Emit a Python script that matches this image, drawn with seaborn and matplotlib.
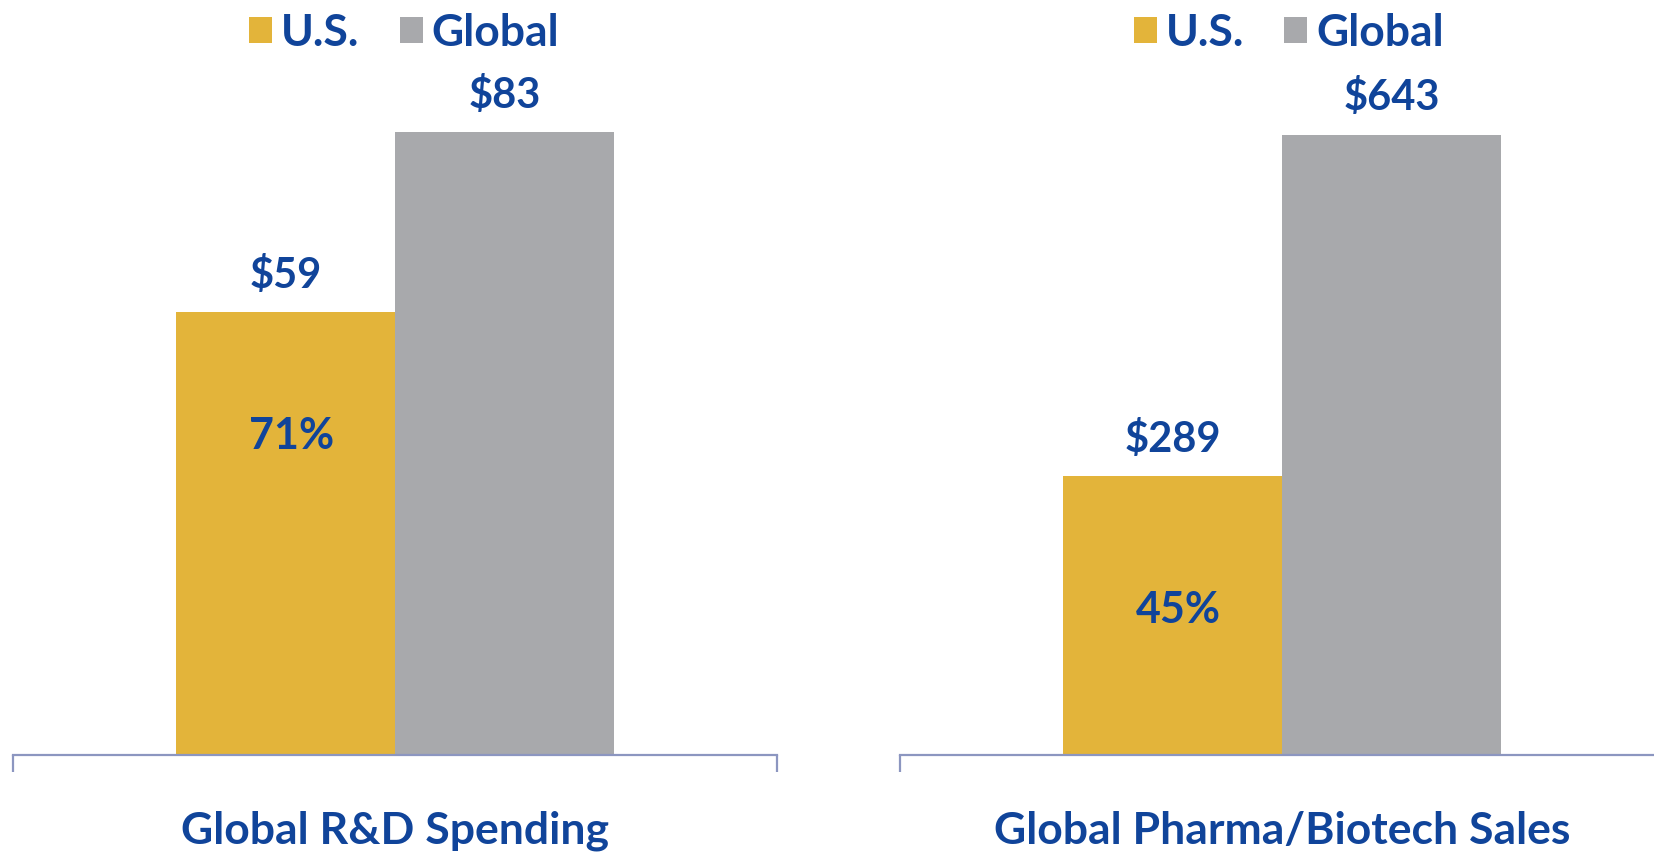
import matplotlib
matplotlib.use("Agg")
import matplotlib.pyplot as plt
import seaborn as sns
import pandas as pd
from matplotlib.patches import Patch

# -------------------- Data --------------------
panels = ["Global R&D Spending", "Global Pharma/Biotech Sales"]
series = ["U.S.", "Global"]
us_values = [59, 289]
global_values = [83, 643]
share_labels = ["71%", "45%"]
share_heights = [0.72, 0.52]   # fraction of the U.S. bar where the share sits
value_labels_us = ["$59", "$289"]
value_labels_global = ["$83", "$643"]
y_tops = [100.5, 782]

# -------------------- Style --------------------
sns.set_style("white")
plt.rcParams["font.family"] = ["Lato", "DejaVu Sans"]
plt.rcParams["font.weight"] = "bold"

gold = "#E3B43A"
gray = "#A8A9AC"
navy = "#10449A"
axis_col = "#8C96C0"
palette = {"U.S.": gold, "Global": gray}

fig = plt.figure(figsize=(16.54, 8.57), dpi=100)
rects = [[13 / 1654, 0.119, 764 / 1654, 0.88],
         [900 / 1654, 0.119, 764 / 1654, 0.88]]
legend_x = [0.512, 0.509]

for i, name in enumerate(panels):
    ax = fig.add_axes(rects[i])
    df = pd.DataFrame({
        "panel": [name, name],
        "series": series,
        "value": [us_values[i], global_values[i]],
    })
    sns.barplot(data=df, x="panel", y="value", hue="series", hue_order=series,
                palette=palette, width=0.573, saturation=1, legend=False,
                linewidth=0, ax=ax)
    ax.set_xlim(-0.5, 0.5)
    ax.set_ylim(0, y_tops[i])

    # value labels above bars, share inside U.S. bar
    us_bar, gl_bar = ax.patches[0], ax.patches[1]
    for bar, lab in [(us_bar, value_labels_us[i]), (gl_bar, value_labels_global[i])]:
        ax.annotate(lab, (bar.get_x() + bar.get_width() / 2, bar.get_height()),
                    xytext=(0, 26.6), textcoords="offset points",
                    ha="center", va="center", fontsize=30, color=navy,
                    fontweight="bold")
    ax.annotate(share_labels[i],
                (us_bar.get_x() + us_bar.get_width() / 2,
                 us_bar.get_height() * share_heights[i]),
                xytext=(4, 0), textcoords="offset points",
                ha="center", va="center", fontsize=31, color=navy,
                fontweight="bold")

    # spines / ticks
    for s in ["top", "left", "right"]:
        ax.spines[s].set_visible(False)
    ax.spines["bottom"].set_color(axis_col)
    ax.spines["bottom"].set_linewidth(1.6)
    ax.set_yticks([])
    ax.set_ylabel("")
    ax.set_xlabel("")
    ax.set_xticks([0])
    ax.set_xticklabels([name], fontsize=32, color=navy, fontweight="bold")
    ax.tick_params(axis="x", which="major", bottom=True, length=0, pad=40)
    ax.set_xticks([-0.5, 0.5], minor=True)
    ax.tick_params(axis="x", which="minor", bottom=True, length=12, width=1.6,
                   color=axis_col, direction="out")

    # legend
    handles = [Patch(facecolor=palette[s], edgecolor="none") for s in series]
    ax.legend(handles, series, loc="center", bbox_to_anchor=(legend_x[i], 0.958),
              bbox_transform=ax.transAxes, ncol=2, frameon=False,
              labelcolor=navy, handlelength=0.52,
              handleheight=0.52, handletextpad=0.2, columnspacing=0.9,
              prop={"weight": "bold", "size": 32})

fig.savefig("out.png", dpi=100)
plt.close(fig)
